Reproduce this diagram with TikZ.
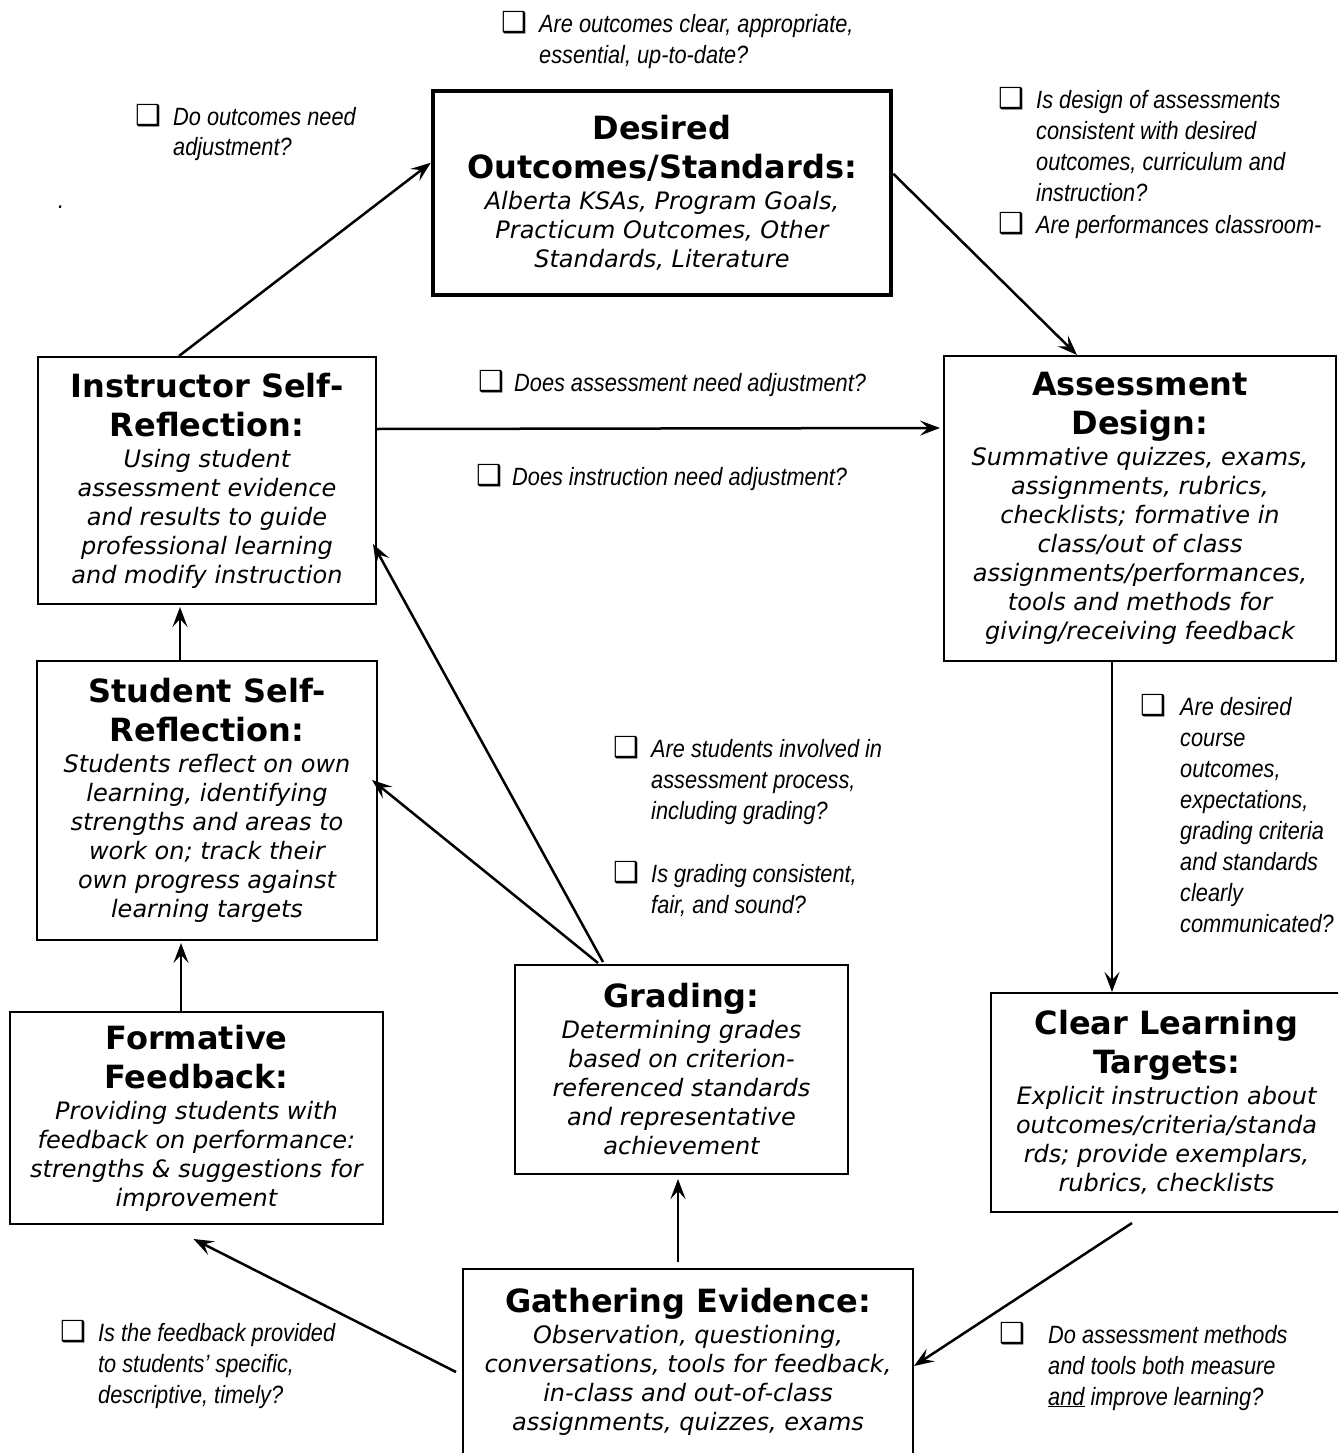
\documentclass[tikz,border=0pt]{standalone}
\usepackage{fontspec}
\usepackage{tikz}
\usetikzlibrary{arrows.meta, positioning}
\newfontfamily\boxfont{DejaVu Sans}
\newfontfamily\askfont[FakeStretch=0.87]{Liberation Sans}
\newfontfamily\chkfont{DejaVu Sans}

\newcommand{\boxtext}[2]{%
  \centering\spaceskip=0pt\relax\xspaceskip=0pt\relax
  {\boxfont\bfseries\fontsize{32}{39}\selectfont #1\par}\vspace{2pt}%
  {\boxfont\itshape\fontsize{24}{29}\selectfont #2\par}}
\newcommand{\asktext}[2][12pt]{%
  \begin{tabular}[t]{@{}l@{\hspace{#1}}l@{}}
    {\chkfont\upshape\bfseries\fontsize{29}{31}\selectfont ❑} &
    \begin{tabular}[t]{@{}l@{}}#2\end{tabular}
  \end{tabular}}

\begin{document}
\begin{tikzpicture}[
        x=1pt, y=-1pt,
        block/.style={
          rectangle, draw=black, line width=2pt,
          inner xsep=2pt, inner ysep=0pt
        },
        keyblock/.style={block, line width=4.5pt},
        ask/.style={
          anchor=base west, inner sep=0pt,
          font=\askfont\itshape\fontsize{25}{31}\selectfont
        },
        arr/.style={-{Stealth[length=20pt, width=15pt, inset=8pt]}, line width=2.5pt}
      ]
      \useasboundingbox (0,0) rectangle (1338,1453);
      \clip (0,0) rectangle (1338,1453);

      \node[keyblock, minimum width=458pt, minimum height=204pt, text width=448pt]
        (outcomes) at (662,193)
        {\boxtext{Desired\\Outcomes/Standards:}{Alberta KSAs, Program Goals,\\Practicum Outcomes, Other\\Standards, Literature}};
      \node[block, minimum width=338pt, minimum height=247pt, text width=332pt]
        (instructor) at (207,480.5)
        {\boxtext{Instructor Self-\\Reflection:}{Using student\\assessment evidence\\and results to guide\\professional learning\\and modify instruction}};
      \node[block, minimum width=392pt, minimum height=305pt, text width=386pt]
        (design) at (1140,508.5)
        {\boxtext{Assessment\\Design:}{Summative quizzes, exams,\\assignments, rubrics,\\checklists; formative in\\class/out of class\\assignments/performances,\\tools and methods for\\giving/receiving feedback}};
      \node[block, minimum width=340pt, minimum height=279pt, text width=334pt]
        (student) at (207,800.5)
        {\boxtext{Student Self-\\Reflection:}{Students reflect on own\\learning, identifying\\strengths and areas to\\work on; track their\\own progress against\\learning targets}};
      \node[block, minimum width=373pt, minimum height=212pt, text width=367pt]
        (formative) at (196.5,1118)
        {\boxtext{Formative\\Feedback:}{Providing students with\\feedback on performance:\\strengths \& suggestions for\\improvement}};
      \node[block, minimum width=333pt, minimum height=209pt, text width=327pt]
        (grading) at (681.5,1069.5)
        {\boxtext{Grading:}{Determining grades\\based on criterion-\\referenced standards\\and representative\\achievement}};
      \node[block, minimum width=351pt, minimum height=219pt, text width=345pt]
        (targets) at (1166.5,1102.5)
        {\boxtext{Clear Learning\\Targets:}{Explicit instruction about\\outcomes/criteria/standa\\rds; provide exemplars,\\rubrics, checklists}};
      \node[block, minimum width=450pt, minimum height=186pt, text width=444pt]
        (evidence) at (688,1362)
        {\boxtext{Gathering Evidence:}{Observation, questioning,\\conversations, tools for feedback,\\in-class and out-of-class\\assignments, quizzes, exams}};

      \node[ask] (qclear)    at (501,33)   {\asktext{Are outcomes clear, appropriate,\\essential, up-to-date?}};
      \node[ask] (qoutcome)  at (135,125)  {\asktext{Do outcomes need\\adjustment?}};
      \node[ask] (dot)       at (58,208)   {.};
      \node[ask] (qdesign)   at (998,109)  {\asktext{Is design of assessments\\consistent with desired\\outcomes, curriculum and\\instruction?}};
      \node[ask] (qperform)  at (998,233)  {\asktext{Are performances classroom-}};
      \node[ask] (qassess)   at (478,391)  {\asktext[10pt]{Does assessment need adjustment?}};
      \node[ask] (qinstruct) at (476,485)  {\asktext[10pt]{Does instruction need adjustment?}};
      \node[ask] (qcomm)     at (1140,715) {\asktext[14pt]{Are desired\\course\\outcomes,\\expectations,\\grading criteria\\and standards\\clearly\\communicated?}};
      \node[ask] (qinvolve)  at (613,757)  {\asktext{Are students involved in\\assessment process,\\including grading?}};
      \node[ask] (qfair)     at (613,882)  {\asktext{Is grading consistent,\\fair, and sound?}};
      \node[ask] (qfeedback) at (60,1341)  {\asktext{Is the feedback provided\\to students’ specific,\\descriptive, timely?}};
      \node[ask] (qmeasure)  at (999,1343) {\asktext[23pt]{Do assessment methods\\and tools both measure\\\underline{and} improve learning?}};

      \draw[arr] ([shift={(142,0)}]instructor.north west) -- ([shift={(0,74)}]outcomes.north west);
      \draw[arr] ([shift={(0,85)}]outcomes.north east) -- ([shift={(134,0)}]design.north west);
      \draw[arr] ([shift={(0,73)}]instructor.north east) -- ([shift={(-3,73)}]design.north west);
      \draw[arr] ([shift={(-28,0)}]design.south) -- ([shift={(-54.5,0)}]targets.north);
      \draw[arr] ([shift={(142,10)}]targets.south west) -- ([shift={(0,98)}]evidence.north east);
      \draw[arr] ([shift={(-10,-6)}]evidence.north) -- ([shift={(-3.5,4)}]grading.south);
      \draw[arr] ([shift={(-6,104)}]evidence.north west) -- ([shift={(-3,14)}]formative.south);
      \draw[arr] ([shift={(89,-2)}]grading.north west) -- ([shift={(-4,188)}]instructor.north east);
      \draw[arr] ([shift={(84,-1)}]grading.north west) -- ([shift={(-6,120)}]student.north east);
      \draw[arr] ([shift={(-27,0)}]student.north) -- ([shift={(-27,2)}]instructor.south);
      \draw[arr] ([shift={(-15.5,0)}]formative.north) -- ([shift={(-26,2)}]student.south);
    \end{tikzpicture}
\end{document}
